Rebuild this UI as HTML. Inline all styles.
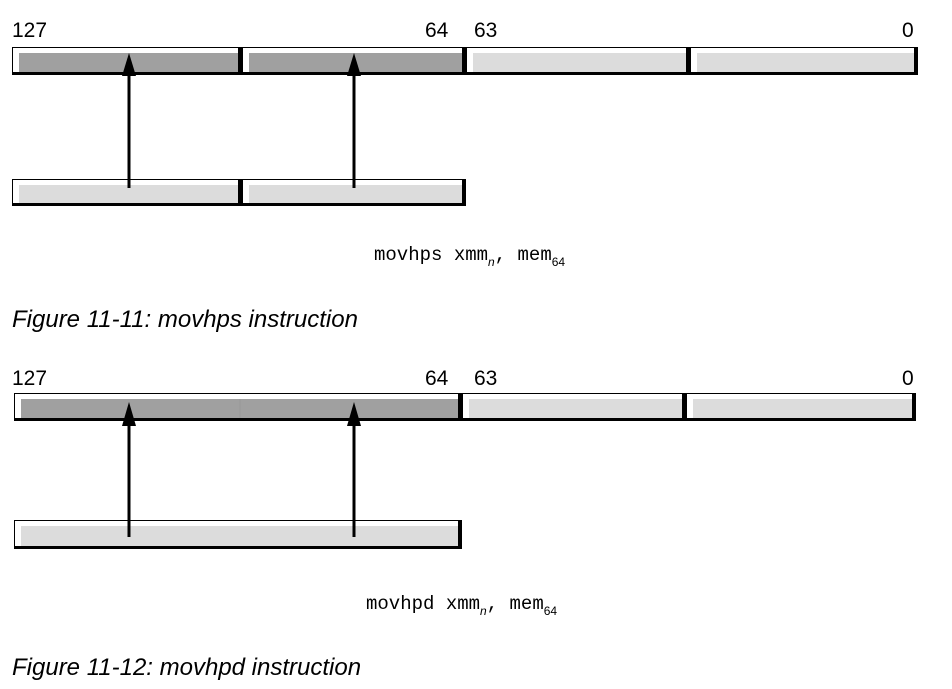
<!DOCTYPE html>
<html><head><style>
html,body{margin:0;padding:0;background:#fff;width:952px;height:689px;overflow:hidden}
svg{display:block}
.n{font-family:"Liberation Sans",sans-serif;font-size:21px;fill:#000}
.m{font-family:"Liberation Mono",monospace;font-size:19px;fill:#000}
.s{font-family:"Liberation Sans",sans-serif;font-size:12px}
.c{font-family:"Liberation Sans",sans-serif;font-size:24px;font-style:italic;fill:#000}
</style></head><body>
<svg width="952" height="689" viewBox="0 0 952 689">
<text class="n" x="12" y="37">127</text>
<text class="n" x="425" y="37">64</text>
<text class="n" x="474" y="37">63</text>
<text class="n" x="902" y="37">0</text>
<rect x="12" y="47" width="230" height="28" fill="#000"/><rect x="13" y="48" width="225" height="24" fill="#fff"/><rect x="19" y="53" width="219" height="19" fill="#a0a0a0"/>
<rect x="242" y="47" width="224" height="28" fill="#000"/><rect x="243" y="48" width="219" height="24" fill="#fff"/><rect x="249" y="53" width="213" height="19" fill="#a0a0a0"/>
<rect x="466" y="47" width="224" height="28" fill="#000"/><rect x="467" y="48" width="219" height="24" fill="#fff"/><rect x="473" y="53" width="213" height="19" fill="#dcdcdc"/>
<rect x="690" y="47" width="228" height="28" fill="#000"/><rect x="691" y="48" width="223" height="24" fill="#fff"/><rect x="697" y="53" width="217" height="19" fill="#dcdcdc"/>
<rect x="12" y="179" width="230" height="27" fill="#000"/><rect x="13" y="180" width="225" height="23" fill="#fff"/><rect x="19" y="185" width="219" height="18" fill="#dcdcdc"/>
<rect x="242" y="179" width="224" height="27" fill="#000"/><rect x="243" y="180" width="219" height="23" fill="#fff"/><rect x="249" y="185" width="213" height="18" fill="#dcdcdc"/>
<line x1="129" y1="188" x2="129" y2="70" stroke="#000" stroke-width="3"/>
<polygon points="129,53 122,76 136,76" fill="#000"/>
<line x1="354" y1="188" x2="354" y2="70" stroke="#000" stroke-width="3"/>
<polygon points="354,53 347,76 361,76" fill="#000"/>
<text class="m" x="374" y="260">movhps xmm<tspan class="s" font-style="italic" dy="6">n</tspan><tspan dy="-6">, mem</tspan><tspan class="s" dy="6">64</tspan></text>
<text class="c" x="12" y="327">Figure 11-11: movhps instruction</text>

<text class="n" x="12" y="385">127</text>
<text class="n" x="425" y="385">64</text>
<text class="n" x="474" y="385">63</text>
<text class="n" x="902" y="385">0</text>
<rect x="14" y="393" width="448" height="28" fill="#000"/><rect x="15" y="394" width="443" height="24" fill="#fff"/><rect x="21" y="399" width="437" height="19" fill="#a0a0a0"/>
<line x1="240" y1="399" x2="240" y2="418" stroke="#999" stroke-width="1"/>
<rect x="462" y="393" width="224" height="28" fill="#000"/><rect x="463" y="394" width="219" height="24" fill="#fff"/><rect x="469" y="399" width="213" height="19" fill="#dcdcdc"/>
<rect x="686" y="393" width="230" height="28" fill="#000"/><rect x="687" y="394" width="225" height="24" fill="#fff"/><rect x="693" y="399" width="219" height="19" fill="#dcdcdc"/>
<rect x="14" y="520" width="448" height="29" fill="#000"/><rect x="15" y="521" width="443" height="25" fill="#fff"/><rect x="21" y="526" width="437" height="20" fill="#dcdcdc"/>
<line x1="129" y1="537" x2="129" y2="420" stroke="#000" stroke-width="3"/>
<polygon points="129,402 122,426 136,426" fill="#000"/>
<line x1="354" y1="537" x2="354" y2="420" stroke="#000" stroke-width="3"/>
<polygon points="354,402 347,426 361,426" fill="#000"/>
<text class="m" x="366" y="609">movhpd xmm<tspan class="s" font-style="italic" dy="6">n</tspan><tspan dy="-6">, mem</tspan><tspan class="s" dy="6">64</tspan></text>
<text class="c" x="12" y="675">Figure 11-12: movhpd instruction</text>
</svg>
</body></html>
